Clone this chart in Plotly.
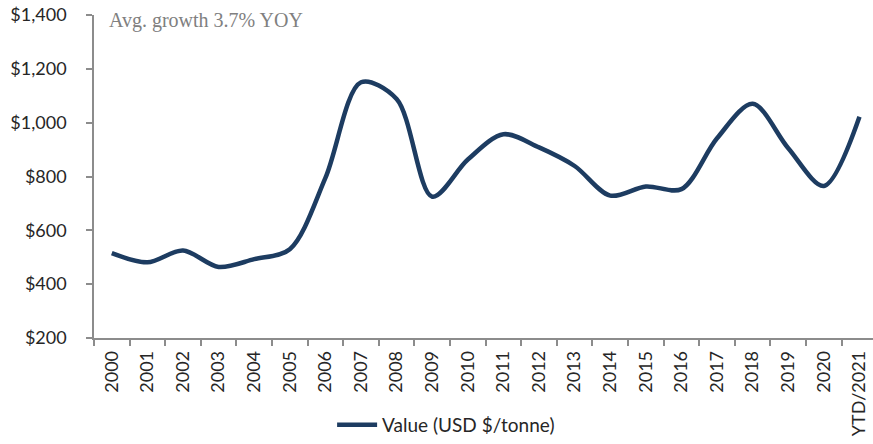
import plotly.graph_objects as go

years = ["2000", "2001", "2002", "2003", "2004", "2005", "2006", "2007", "2008", "2009", "2010",
         "2011", "2012", "2013", "2014", "2015", "2016", "2017", "2018", "2019", "2020", "YTD/2021"]
values = [515, 481, 525, 464, 493, 530, 795, 1150, 1088, 725, 863,
          957, 908, 839, 729, 763, 753, 942, 1070, 905, 765, 1022]
y_ticks = [200, 400, 600, 800, 1000, 1200, 1400]

LINE = "#1d3c61"
AXIS = "#8c8c8c"

fig = go.Figure()
fig.add_trace(go.Scatter(
    x=years, y=values, mode="lines", name="Value (USD $/tonne)",
    line=dict(color=LINE, width=4.5, shape="spline", smoothing=0.9),
))

fig.update_layout(
    width=873, height=444,
    margin=dict(l=94, r=0, t=15, b=101),
    paper_bgcolor="white", plot_bgcolor="white",
    font=dict(family="Lato, Open Sans, sans-serif", size=18, color="#262626"),
    showlegend=True,
    legend=dict(orientation="h", x=0.452, xanchor="center", y=-0.27, yanchor="middle",
                font=dict(size=19, color="#262626"), itemwidth=40),
    xaxis=dict(
        type="category", range=[-0.5, 21.38], tickangle=-90, automargin=False,
        showline=True, linecolor=AXIS, linewidth=1.5,
        ticks="outside", tickson="boundaries", ticklen=6, tickcolor=AXIS, tickwidth=1.5,
        showgrid=False, zeroline=False, ticklabelstandoff=4,
        tickfont=dict(size=18),
    ),
    yaxis=dict(
        range=[200, 1400], tickvals=y_ticks, tickformat="$,", automargin=False,
        showline=True, linecolor=AXIS, linewidth=1.5,
        ticks="outside", ticklen=6, tickcolor=AXIS, tickwidth=1.5,
        showgrid=False, zeroline=False, ticklabelstandoff=16,
        tickfont=dict(size=18),
    ),
    annotations=[dict(
        text="Avg. growth 3.7% YOY", xref="paper", yref="paper",
        x=(107 - 94) / 779, y=1.0, xanchor="left", yanchor="middle", yshift=-5,
        showarrow=False,
        font=dict(family="Liberation Serif, serif", size=20, color="#808080"),
    )],
)

page_fix = (
    "var h=document.documentElement,b=document.body;"
    "h.style.margin='0';h.style.padding='0';h.style.overflow='hidden';h.style.height='444px';"
    "b.style.margin='0';b.style.padding='0';b.style.overflow='hidden';b.style.height='444px';"
)

fig.write_html(
    "out.html",
    config={"displayModeBar": False},
    post_script=page_fix,
)
